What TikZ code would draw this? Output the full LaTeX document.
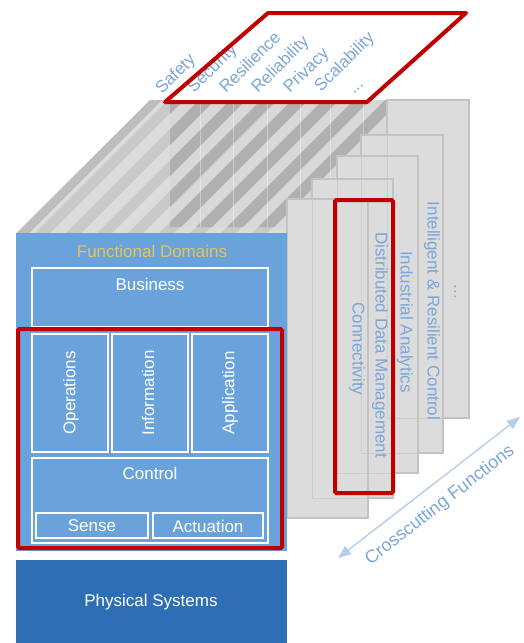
\documentclass[tikz,border=0pt]{standalone}
\usepackage{fontspec}
\setmainfont{Liberation Sans}
\usetikzlibrary{arrows.meta}
\definecolor{fdblue}{HTML}{6AA3DB}
\definecolor{physblue}{HTML}{2E6EB4}
\definecolor{redc}{HTML}{C00000}
\definecolor{textblue}{HTML}{7AA6D9}
\definecolor{arrowc}{HTML}{B3CEEC}
\definecolor{goldc}{HTML}{E6C35C}
\definecolor{panelc}{HTML}{DCDCDC}
\definecolor{paneledge}{HTML}{C3C3C3}
\definecolor{leftbase}{HTML}{DCDCDC}
\definecolor{leftband}{HTML}{C9C9C9}
\definecolor{rightbase}{HTML}{D8D8D8}
\definecolor{darkband}{HTML}{B0B0B0}
\definecolor{edgeband}{HTML}{BDBDBD}
\begin{document}
\begin{tikzpicture}[x=1pt,y=-1pt,
  lbl/.style={font=\fontsize{17}{20}\selectfont, inner sep=0pt},
  wbox/.style={draw=white, line width=1.8pt, inner sep=0pt, outer sep=0pt},
  redframe/.style={draw=redc, line width=4pt, rounded corners=1.5pt, inner sep=0pt},
  panel/.style={fill=panelc, draw=paneledge, line width=1.5pt, inner sep=0pt, outer sep=0pt},
  ghost/.style={draw=paneledge, line width=1pt, draw opacity=0.6},
  ptext/.style={lbl, text=textblue, rotate=-90},
  toptext/.style={font=\fontsize{17}{20}\selectfont, text=textblue, rotate=45, anchor=base west, inner sep=0pt},
  wtext/.style={lbl, text=white}]
\useasboundingbox (0,0) rectangle (524,643);

% ---------- top face with stripes ----------
\begin{scope}
  \clip (16,233) -- (150,100) -- (422,100) -- (287,233) -- cycle;
  \fill[leftbase] (0,90) rectangle (440,240);
  \foreach \c in {268,299,330,361,392,423,454,485}
    \fill[leftband] ({\c-100},100) -- ({\c+15-100},100) -- ({\c+15-233},233) -- ({\c-233},233) -- cycle;
  \fill[edgeband] (150,100) -- (162,100) -- (29,233) -- (17,233) -- cycle;
  \begin{scope}
    \clip (170,100) rectangle (440,227);
    \fill[rightbase] (170,100) rectangle (440,227);
    \foreach \c in {268,299,330,361,392,423,454,485}
      \fill[darkband] ({\c-100},100) -- ({\c+16-100},100) -- ({\c+16-227},227) -- ({\c-227},227) -- cycle;
    \foreach \x in {200,233,267,300,330,363}
      \draw[white, opacity=0.35, line width=1pt] (\x,100) -- (\x,227);
  \end{scope}
\end{scope}

% ---------- crosscutting panels ----------
\node[panel, minimum width=82pt, minimum height=318pt] (p1) at (428,259) {};
\node[panel, minimum width=82pt, minimum height=318pt] (p2) at (402,294) {};
\node[panel, minimum width=81pt, minimum height=317pt] (p3) at (377.5,314.5) {};
\node[panel, minimum width=81pt, minimum height=319pt] (p4) at (352.5,338.5) {};
\node[panel, minimum width=81pt, minimum height=319pt] (p5) at (327.5,358.5) {};
\foreach \p in {p1,p2,p3,p4}
  \draw[ghost] (\p.north west) rectangle (\p.south east);

\node[redframe, minimum width=58pt, minimum height=293pt] (redp) at (364,346.5) {};

\node[ptext] (t1) at (455,292) {...};
\node[ptext] (t2) at (432,311) {Intelligent \& Resilient Control};
\node[ptext] (t3) at (405,322) {Industrial Analytics};
\node[ptext] (t4) at (380,345) {Distributed Data Management};
\node[ptext] (t5) at (357,349) {Connectivity};

% ---------- functional domains ----------
\node[fill=fdblue, inner sep=0pt, minimum width=271pt, minimum height=318pt] (fd) at (151.5,392) {};
\node[lbl, text=goldc] (fdl) at (152,251) {Functional Domains};

\node[wbox, minimum width=236pt, minimum height=59pt] (bus) at (150,297.5) {};
\node[wtext] (busl) at (150,284) {Business};

\node[wbox, minimum width=76pt, minimum height=118pt] (ops) at (70,393) {};
\node[wbox, minimum width=76pt, minimum height=118pt] (inf) at (150,393) {};
\node[wbox, minimum width=76pt, minimum height=118pt] (app) at (230,393) {};
\node[wtext, rotate=90] (opsl) at (71,393) {Operations};
\node[wtext, rotate=90] (infl) at (148,393) {Information};
\node[wtext, rotate=90] (appl) at (230,393) {Application};

\node[wbox, minimum width=236pt, minimum height=85pt] (ctl) at (150,500.5) {};
\node[wtext] (ctll) at (150,473) {Control};
\node[wbox, minimum width=112pt, minimum height=25pt] (sen) at (92,525.5) {};
\node[wbox, minimum width=110pt, minimum height=25pt] (act) at (208,525.5) {};
\node[wtext] (senl) at (92,526) {Sense};
\node[wtext] (actl) at (208,526) {Actuation};

\node[redframe, minimum width=264pt, minimum height=219pt] (redfd) at (150,438.5) {};

\node[fill=physblue, inner sep=0pt, minimum width=271pt, minimum height=83pt] (phys) at (151.5,601.5) {};
\node[wtext] (physl) at (151,602) {Physical Systems};

% ---------- top labels ----------
\node[toptext] (s1) at (162,95) {Safety};
\node[toptext] (s2) at (194,94) {Security};
\node[toptext] (s3) at (226,94) {Resilience};
\node[toptext] (s4) at (258,94) {Reliability};
\node[toptext] (s5) at (290,94) {Privacy};
\node[toptext] (s6) at (321,93) {Scalability};
\node[toptext] (s7) at (354,95) {...};
\draw[draw=redc, line width=4pt, line join=round] (165,102) -- (367,102) -- (466,13) -- (268,13) -- cycle;

% ---------- crosscutting arrow ----------
\coordinate (ca) at (338,558);
\coordinate (cb) at (520,417);
\draw[arrowc, line width=1.4pt, {Triangle[length=13pt,width=10pt]}-{Triangle[length=13pt,width=10pt]}] (ca) -- (cb);
\node[font=\fontsize{18}{22}\selectfont, text=textblue, rotate=37.8, anchor=base, inner sep=0pt] (cf) at (443,509) {Crosscutting Functions};
\end{tikzpicture}
\end{document}
